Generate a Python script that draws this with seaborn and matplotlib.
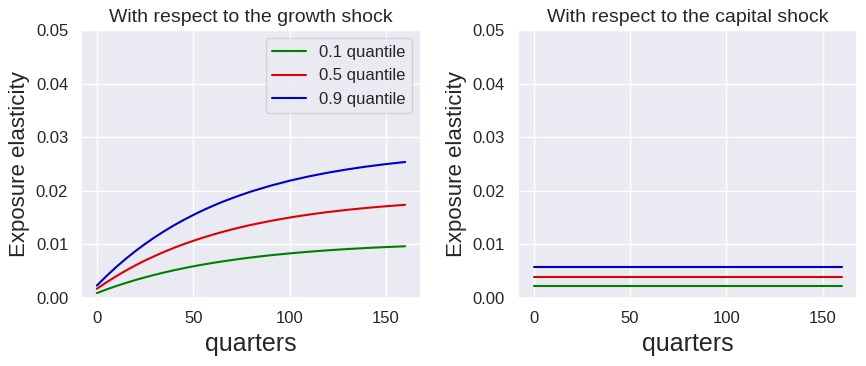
import numpy as np
import pandas as pd
import matplotlib
matplotlib.use("Agg")
import matplotlib.pyplot as plt
import seaborn as sns

# quarters sampled (denser at the start where curves bend most)
quarters = [0, 5, 10, 15, 20, 25, 30, 35, 40, 45, 50, 55, 60, 65, 70, 75, 80,
            90, 100, 110, 120, 130, 140, 150, 160]

# growth shock exposure elasticities
growth_q10 = [0.00090, 0.00158, 0.00221, 0.00279, 0.00334, 0.00384, 0.00431, 0.00475,
              0.00516, 0.00554, 0.00589, 0.00622, 0.00653, 0.00681, 0.00707, 0.00732,
              0.00755, 0.00796, 0.00831, 0.00862, 0.00889, 0.00912, 0.00932, 0.00949,
              0.00964]
growth_q50 = [0.00170, 0.00291, 0.00404, 0.00509, 0.00607, 0.00698, 0.00782, 0.00861,
              0.00934, 0.01002, 0.01065, 0.01124, 0.01179, 0.01230, 0.01278, 0.01322,
              0.01363, 0.01436, 0.01500, 0.01555, 0.01603, 0.01644, 0.01680, 0.01711,
              0.01738]
growth_q90 = [0.00230, 0.00408, 0.00575, 0.00729, 0.00873, 0.01006, 0.01131, 0.01246,
              0.01354, 0.01454, 0.01547, 0.01634, 0.01715, 0.01790, 0.01859, 0.01924,
              0.01985, 0.02093, 0.02187, 0.02268, 0.02338, 0.02399, 0.02452, 0.02497,
              0.02537]

# capital shock exposure elasticities (flat)
capital_q10 = [0.0022] * len(quarters)
capital_q50 = [0.0039] * len(quarters)
capital_q90 = [0.0058] * len(quarters)

labels = ["0.1 quantile", "0.5 quantile", "0.9 quantile"]
colors = ["green", "#dd0000", "#0000cc"]

sns.set_theme(style="darkgrid")
plt.rcParams["font.family"] = ["Liberation Sans", "DejaVu Sans"]

fig, axes = plt.subplots(1, 2, figsize=(8.66, 3.66), dpi=100)


def draw(ax, series, title, legend):
    for vals, lab, c in zip(series, labels, colors):
        df = pd.DataFrame({"quarters": quarters, "value": vals})
        sns.lineplot(data=df, x="quarters", y="value", ax=ax, color=c, label=lab)
    ax.set_ylim(0, 0.05)
    ax.set_title(title, fontsize=14)
    ax.set_xlabel("quarters", fontsize=18)
    ax.set_ylabel("Exposure elasticity", fontsize=16)
    ax.tick_params(labelsize=12)
    if legend:
        ax.legend(loc="upper right", fontsize=12)
    else:
        ax.get_legend().remove()


draw(axes[0], [growth_q10, growth_q50, growth_q90], "With respect to the growth shock", True)
draw(axes[1], [capital_q10, capital_q50, capital_q90], "With respect to the capital shock", False)

plt.subplots_adjust(left=0.094, right=0.99, top=0.918, bottom=0.186, wspace=0.288)
fig.savefig("out.png", dpi=100)
